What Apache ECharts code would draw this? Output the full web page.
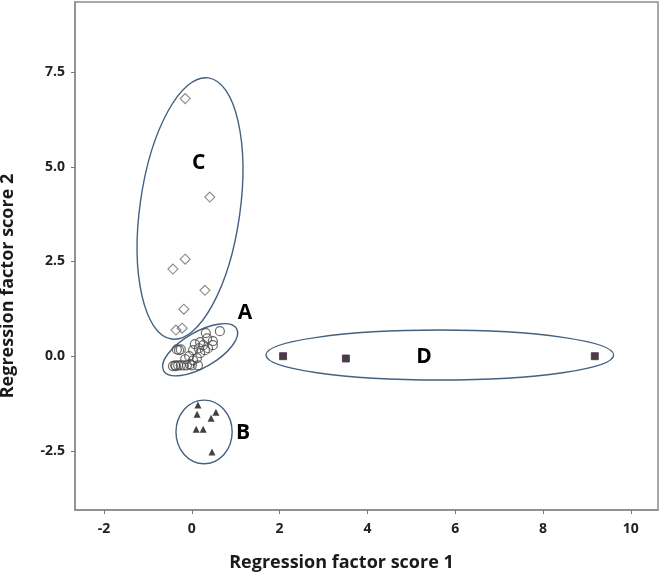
<!DOCTYPE html>
<html>
<head>
<meta charset="utf-8">
<script src="https://cdn.jsdelivr.net/npm/echarts@6/dist/echarts.min.js"></script>
<style>
  html, body { margin: 0; padding: 0; background: #fff; }
  #main { width: 662px; height: 580px; }
</style>
</head>
<body>
<div id="main"></div>
<script>
// cluster A - open circles
const groupA = [
  [0.64, 0.66], [0.32, 0.61], [0.48, 0.40], [0.35, 0.47], [0.19, 0.37],
  [0.07, 0.32], [0.26, 0.29], [0.16, 0.21], [0.37, 0.21], [0.03, 0.16],
  [-0.34, 0.18], [-0.25, 0.18], [-0.29, 0.16], [-0.06, 0.0], [-0.15, -0.08],
  [0.03, -0.11], [0.12, -0.05], [0.14, -0.24], [0.0, -0.24], [-0.38, -0.24],
  [-0.31, -0.24], [-0.25, -0.24], [-0.18, -0.24], [-0.11, -0.24], [-0.04, -0.21],
  [-0.43, -0.26], [-0.36, -0.26], [0.30, 0.16], [0.48, 0.29], [0.19, 0.08]
];
// cluster B - filled triangles
const groupB = [
  [0.14, -1.29], [0.12, -1.53], [0.55, -1.48], [0.44, -1.64],
  [0.10, -1.93], [0.26, -1.93], [0.46, -2.53]
];
// cluster C - open diamonds
const groupC = [
  [-0.15, 6.80], [0.41, 4.20], [-0.15, 2.56], [-0.43, 2.30],
  [0.30, 1.74], [-0.18, 1.24], [-0.36, 0.69], [-0.22, 0.74]
];
// cluster D - squares
const groupD = [
  [2.08, 0.00], [3.51, -0.06], [9.18, 0.00]
];

// cluster outlines (data units): centre, half width / half height, tilt in degrees, where the letter sits
const clusterNames = ['A', 'B', 'C', 'D'];
const clusterCentres = [[0.19, 0.17], [0.28, -2.0], [-0.04, 3.9], [5.65, 0.03]];
const clusterRadii = [[0.96, 0.47], [0.64, 0.84], [1.14, 3.48], [3.96, 0.66]];
const clusterTilt = [30, 0, -8, 0];
const clusterLabelAt = [[1.21, 1.13], [1.17, -2.03], [0.16, 5.09], [5.29, -0.03]];

const xTicks = [-2, 0, 2, 4, 6, 8, 10];
const yTicks = [-2.5, 0, 2.5, 5, 7.5];

const outlineData = clusterNames.map((n, i) => ({
  name: n,
  value: [clusterCentres[i][0], clusterCentres[i][1], clusterRadii[i][0], clusterRadii[i][1],
          clusterTilt[i], clusterLabelAt[i][0], clusterLabelAt[i][1]]
}));

const font = '"Open Sans", "Liberation Sans", sans-serif';

const myChart = echarts.init(document.getElementById('main'));
const option = {
  animation: false,
  grid: {
    left: 75, right: 4, top: 2, bottom: 70,
    outerBoundsMode: 'none',
    containLabel: false,
    show: true,
    borderColor: '#8c8c8c',
    borderWidth: 1.5
  },
  xAxis: {
    type: 'value',
    min: -2.66,
    max: 10.62,
    name: 'Regression factor score 1',
    nameLocation: 'middle',
    nameGap: 44,
    nameTextStyle: {
      fontFamily: font, fontWeight: 'bold', fontSize: 18, color: '#1a1a1a',
      padding: [0, 50, 0, 0]
    },
    splitLine: { show: false },
    axisLine: { show: true, onZero: false, lineStyle: { color: '#8c8c8c', width: 1.5 } },
    axisTick: { show: true, length: 4, customValues: xTicks, lineStyle: { color: '#777' } },
    axisLabel: {
      customValues: xTicks,
      margin: 12,
      fontFamily: font, fontWeight: 'bold', fontSize: 14, color: '#222'
    }
  },
  yAxis: {
    type: 'value',
    min: -4.06,
    max: 9.35,
    name: 'Regression factor score 2',
    nameLocation: 'middle',
    nameGap: 58,
    nameTextStyle: {
      fontFamily: font, fontWeight: 'bold', fontSize: 18, color: '#1a1a1a',
      padding: [0, 60, 0, 0]
    },
    splitLine: { show: false },
    axisLine: { show: true, onZero: false, lineStyle: { color: '#8c8c8c', width: 1.5 } },
    axisTick: { show: true, length: 4, customValues: yTicks, lineStyle: { color: '#777' } },
    axisLabel: {
      customValues: yTicks,
      margin: 10,
      formatter: v => v.toFixed(1),
      fontFamily: font, fontWeight: 'bold', fontSize: 14, color: '#222'
    }
  },
  series: [
    {
      name: 'outlines',
      type: 'custom',
      clip: false,
      silent: true,
      data: outlineData,
      encode: { x: 0, y: 1 },
      renderItem: function (params, api) {
        const c = api.coord([api.value(0), api.value(1)]);
        const s = api.size([api.value(2), api.value(3)]);
        const l = api.coord([api.value(5), api.value(6)]);
        return {
          type: 'group',
          children: [
            {
              type: 'ellipse',
              x: c[0], y: c[1],
              rotation: api.value(4) * Math.PI / 180,
              shape: { cx: 0, cy: 0, rx: s[0], ry: s[1] },
              style: { fill: 'none', stroke: '#44617f', lineWidth: 1.4 }
            },
            {
              type: 'text',
              x: l[0], y: l[1],
              style: {
                text: clusterNames[params.dataIndex],
                font: 'bold 21px ' + font,
                fill: '#000',
                align: 'center',
                verticalAlign: 'middle'
              }
            }
          ]
        };
      }
    },
    {
      name: 'A',
      type: 'scatter',
      symbol: 'circle',
      symbolSize: 9,
      itemStyle: { color: 'rgba(0,0,0,0)', borderColor: '#4a4a4a', borderWidth: 1.2 },
      data: groupA
    },
    {
      name: 'B',
      type: 'scatter',
      symbol: 'triangle',
      symbolSize: 7,
      itemStyle: { color: '#111' },
      data: groupB
    },
    {
      name: 'C',
      type: 'scatter',
      symbol: 'diamond',
      symbolSize: 10,
      itemStyle: { color: 'rgba(0,0,0,0)', borderColor: '#6a6a6a', borderWidth: 1.1 },
      data: groupC
    },
    {
      name: 'D',
      type: 'scatter',
      symbol: 'rect',
      symbolSize: 7,
      itemStyle: { color: '#111', borderColor: '#5a2550', borderWidth: 1 },
      data: groupD
    }
  ]
};
myChart.setOption(option, true);
</script>
</body>
</html>
